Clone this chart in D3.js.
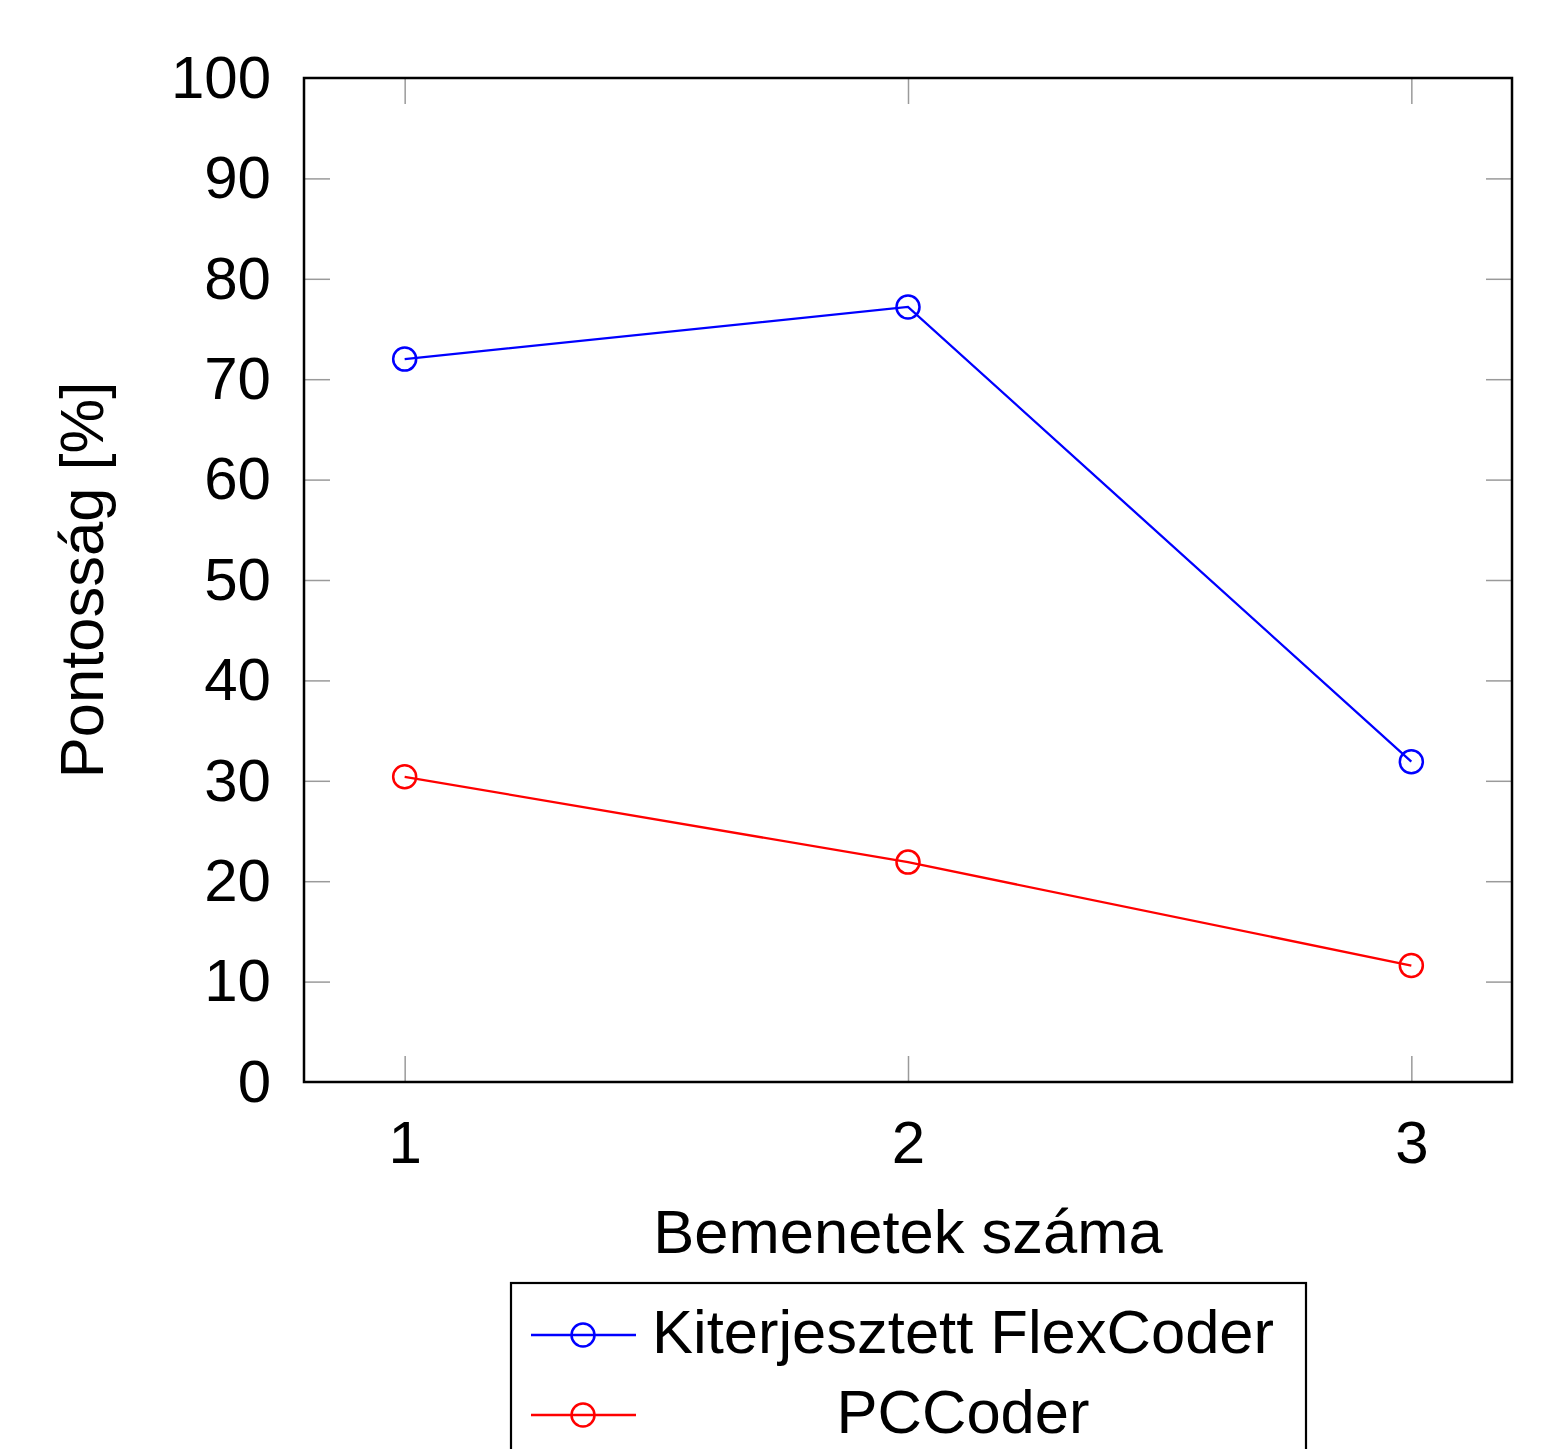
<!DOCTYPE html>
<html>
<head>
<meta charset="utf-8">
<script src="https://cdn.jsdelivr.net/npm/d3@7"></script>
<style>
  body { margin: 0; background: white; }
  text { font-family: "Liberation Sans", Arial, sans-serif; }
</style>
</head>
<body>
<script>
// data
const inputs = [1, 2, 3];
const flexCoder = [72.0, 77.2, 31.9];
const pcCoder = [30.4, 21.9, 11.6];
const yTicks = [0, 10, 20, 30, 40, 50, 60, 70, 80, 90, 100];
const seriesNames = ["Kiterjesztett FlexCoder", "PCCoder"];
const seriesColors = ["#0000ff", "#ff0000"];

const W = 1561, H = 1449;
const plot = { left: 304, right: 1512, top: 78, bottom: 1082 };

const svg = d3.select("body").append("svg")
    .attr("width", W)
    .attr("height", H)
    .attr("xmlns", "http://www.w3.org/2000/svg");

const x = d3.scaleLinear().domain([0.8, 3.2]).range([plot.left, plot.right]);
const y = d3.scaleLinear().domain([0, 100]).range([plot.bottom, plot.top]);

const tickLen = 26, fs = 60, titleFs = 61.5;

// left axis with labels
const axLeft = svg.append("g").attr("transform", `translate(${plot.left},0)`)
    .call(d3.axisLeft(y).tickValues(yTicks).tickSize(-tickLen).tickPadding(33));
// bottom axis with labels
const axBottom = svg.append("g").attr("transform", `translate(0,${plot.bottom})`)
    .call(d3.axisBottom(x).tickValues(inputs).tickFormat(d3.format("d")).tickSize(-tickLen).tickPadding(38));
// right and top: tick marks only
const axRight = svg.append("g").attr("transform", `translate(${plot.right},0)`)
    .call(d3.axisRight(y).tickValues(yTicks.slice(1, -1)).tickSize(-tickLen).tickFormat(""));
const axTop = svg.append("g").attr("transform", `translate(0,${plot.top})`)
    .call(d3.axisTop(x).tickValues(inputs).tickSize(-tickLen).tickFormat(""));

[axLeft, axBottom, axRight, axTop].forEach(g => {
    g.select(".domain").remove();
    g.selectAll(".tick line").attr("stroke", "#9a9a9a").attr("stroke-width", 1.5);
    g.selectAll("text").attr("font-size", fs).attr("fill", "black")
        .style("font-family", '"Liberation Sans", Arial, sans-serif');
});
axLeft.selectAll(".tick").filter(d => d === 0 || d === 100).select("line").remove();

// frame
svg.append("rect")
    .attr("x", plot.left).attr("y", plot.top)
    .attr("width", plot.right - plot.left).attr("height", plot.bottom - plot.top)
    .attr("fill", "none").attr("stroke", "black").attr("stroke-width", 2.5);

// series
const series = [flexCoder, pcCoder];
const line = d3.line().x((d, i) => x(inputs[i])).y(d => y(d));
series.forEach((vals, s) => {
    svg.append("path")
        .datum(vals)
        .attr("d", line)
        .attr("fill", "none")
        .attr("stroke", seriesColors[s])
        .attr("stroke-width", 2.3);
    svg.selectAll(null).data(vals).enter().append("circle")
        .attr("cx", (d, i) => x(inputs[i]))
        .attr("cy", d => y(d))
        .attr("r", 11.5)
        .attr("fill", "none")
        .attr("stroke", seriesColors[s])
        .attr("stroke-width", 2.5);
});

// axis titles
svg.append("text")
    .attr("x", (plot.left + plot.right) / 2)
    .attr("y", 1253)
    .attr("text-anchor", "middle")
    .attr("font-size", titleFs)
    .text("Bemenetek száma");

svg.append("text")
    .attr("transform", `translate(103,${(plot.top + plot.bottom) / 2}) rotate(-90)`)
    .attr("text-anchor", "middle")
    .attr("font-size", titleFs)
    .text("Pontosság [%]");

// legend
const legend = svg.append("g");
legend.append("rect")
    .attr("x", 511).attr("y", 1283)
    .attr("width", 795).attr("height", 200)
    .attr("fill", "white").attr("stroke", "black").attr("stroke-width", 2.2);
const rowY = [1335, 1415];
seriesNames.forEach((name, i) => {
    legend.append("line")
        .attr("x1", 531).attr("x2", 636)
        .attr("y1", rowY[i]).attr("y2", rowY[i])
        .attr("stroke", seriesColors[i]).attr("stroke-width", 2.3);
    legend.append("circle")
        .attr("cx", 583).attr("cy", rowY[i]).attr("r", 11.5)
        .attr("fill", "none").attr("stroke", seriesColors[i]).attr("stroke-width", 2.5);
    legend.append("text")
        .attr("x", 963).attr("y", rowY[i] + 18)
        .attr("text-anchor", "middle")
        .attr("font-size", titleFs)
        .text(name);
});
</script>
</body>
</html>
